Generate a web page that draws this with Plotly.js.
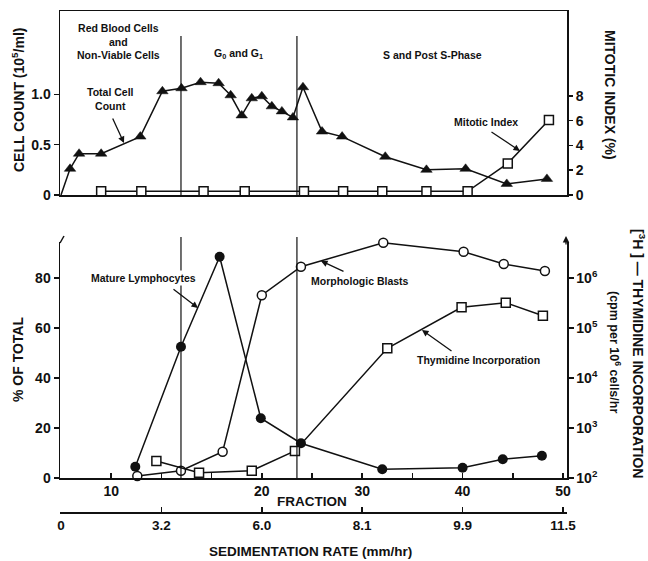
<!DOCTYPE html>
<html>
<head>
<meta charset="utf-8">
<script src="https://cdn.plot.ly/plotly-3.0.1.min.js"></script>
<style>html,body{margin:0;padding:0;background:#fff;}#chart{width:648px;height:561px;}</style>
</head>
<body>
<div id="chart"></div>
<script>
// ---- Data (x = position along the fraction axis) ----
const cellX     = [0, 0.9, 1.8, 4.0, 7.9, 10.1, 12.0, 13.9, 15.7, 16.9, 18.0, 19.0, 20.0, 21.0, 22.0, 23.1, 24.1, 26.0, 28.0, 32.3, 36.4, 40.3, 44.4, 48.4];
const cellCount = [0, 0.26, 0.41, 0.41, 0.58, 1.03, 1.06, 1.12, 1.11, 0.99, 0.79, 0.96, 0.98, 0.88, 0.83, 0.77, 1.07, 0.63, 0.58, 0.38, 0.25, 0.26, 0.11, 0.16];
const mitoX     = [4.0, 8.0, 14.2, 18.3, 24.2, 28.1, 32.0, 36.4, 40.5, 44.5, 48.6];
const mitoIndex = [0.3, 0.3, 0.3, 0.3, 0.3, 0.3, 0.3, 0.3, 0.3, 2.55, 6.05];
const lymphX    = [7.4, 11.95, 15.8, 19.9, 23.9, 32.0, 40.0, 44.0, 47.9];
const lymphPct  = [4.5, 52.5, 88.5, 23.9, 13.9, 3.5, 4.1, 7.5, 8.9];
const blastX    = [7.6, 11.95, 16.1, 20.0, 23.9, 32.1, 40.1, 44.1, 48.2];
const blastPct  = [0.8, 2.9, 10.5, 73.1, 84.5, 94.1, 90.5, 85.6, 82.8];
const thyX      = [9.5, 13.75, 19.0, 23.3, 32.5, 39.9, 44.3, 48.0];
const thyCpm    = [219, 128, 140, 347, 39300, 259000, 321000, 176000];
const phaseBounds = [11.95, 23.5];
const fracTickVals = [5, 20, 30, 40, 50];
const fracTickText = ["10", "20", "30", "40", "50"];
const fracMinorVals = [10, 15, 25, 35, 45];
const sedTickVals = [0, 10, 20, 30, 40, 50];
const sedTickText = ["0", "3.2", "6.0", "8.1", "9.9", "11.5"];
const cellTickVals = [0, 0.5, 1.0];
const cellTickText = ["0", "0.5", "1.0"];
const mitoTickVals = [0, 2, 4, 6, 8];
const pctTickVals = [0, 20, 40, 60, 80];
const cpmTickVals = [1e2, 1e3, 1e4, 1e5, 1e6];
const cpmTickText = ["10<sup>2</sup>", "10<sup>3</sup>", "10<sup>4</sup>", "10<sup>5</sup>", "10<sup>6</sup>"];

// ---- helpers: pixel -> paper ----
const L = 60, R = 567, T = 11, B = 512;
const px = x => (x - L) / (R - L);
const py = y => (B - y) / (B - T);

const FONT = 'Liberation Sans, Arial, sans-serif';
const K = '#111';
const tickFont = {family: FONT, size: 14, color: K, weight: 'bold'};
const XR = [-0.1, 50.4];

const lineStyle = {color: K, width: 1.5};
const traces = [
  {x: cellX, y: cellCount, xaxis: 'x', yaxis: 'y', mode: 'lines+markers', line: lineStyle,
   marker: {symbol: 'triangle-up', size: cellX.map((v, i) => i === 0 ? 0 : 10), color: K, opacity: 1, line: {color: K, width: 0.5}}, cliponaxis: false, hoverinfo: 'skip'},
  {x: mitoX, y: mitoIndex, xaxis: 'x', yaxis: 'y2', mode: 'lines+markers', line: lineStyle,
   marker: {symbol: 'square', size: 9, color: '#fff', opacity: 1, line: {color: K, width: 1.5}}, cliponaxis: false, hoverinfo: 'skip'},
  {x: lymphX, y: lymphPct, xaxis: 'x2', yaxis: 'y3', mode: 'lines+markers', line: lineStyle,
   marker: {symbol: 'circle', size: 10, color: K, opacity: 1}, cliponaxis: false, hoverinfo: 'skip'},
  {x: blastX, y: blastPct, xaxis: 'x2', yaxis: 'y3', mode: 'lines+markers', line: lineStyle,
   marker: {symbol: 'circle', size: 9, color: '#fff', opacity: 1, line: {color: K, width: 1.5}}, cliponaxis: false, hoverinfo: 'skip'},
  {x: thyX, y: thyCpm, xaxis: 'x2', yaxis: 'y4', mode: 'lines+markers', line: lineStyle,
   marker: {symbol: 'square', size: 9, color: '#fff', opacity: 1, line: {color: K, width: 1.5}}, cliponaxis: false, hoverinfo: 'skip'},
  {x: [0], y: [0], xaxis: 'x3', yaxis: 'y3', mode: 'markers', marker: {opacity: 0}, hoverinfo: 'skip'}
];

const axBase = {showgrid: false, zeroline: false, linecolor: K, linewidth: 1.5, tickcolor: K, tickwidth: 1.5, ticklen: 5, tickfont: tickFont, fixedrange: true};

const shapes = [];
phaseBounds.forEach(b => {
  shapes.push({type: 'line', xref: 'x', yref: 'paper', x0: b, x1: b, y0: py(195), y1: py(36), line: {color: K, width: 1.2}});
  shapes.push({type: 'line', xref: 'x2', yref: 'paper', x0: b, x1: b, y0: py(478), y1: py(237), line: {color: K, width: 1.2}});
});
// small curl at top of left bottom axis
shapes.push({type: 'line', xref: 'paper', yref: 'paper', x0: px(60), x1: px(64), y0: py(243), y1: py(236), line: {color: K, width: 1.5}});

const textFont = {family: FONT, size: 10.5, color: K, weight: 'bold'};
const titleFont = {family: FONT, size: 14, color: K, weight: 'bold'};
function lab(text, x, y, extra) {
  return Object.assign({text: text, xref: 'paper', yref: 'paper', x: px(x), y: py(y), showarrow: false,
    xanchor: 'center', yanchor: 'middle', font: textFont}, extra || {});
}
function arrow(tipX, tipY, tailX, tailY) {
  return {text: '', xref: 'paper', yref: 'paper', x: px(tipX), y: py(tipY), ax: tailX - tipX, ay: tailY - tipY,
    showarrow: true, arrowhead: 2, arrowsize: 1, arrowwidth: 1.3, arrowcolor: K};
}

const annotations = [
  lab('Red Blood Cells<br>and<br>Non-Viable Cells', 118, 42),
  lab('G<sub>0</sub> and G<sub>1</sub>', 238, 54),
  lab('S and Post S-Phase', 432, 55),
  lab('Total Cell<br>Count', 110, 99),
  lab('Mitotic Index', 486, 122),
  lab('Mature Lymphocytes', 143, 278, {bgcolor: '#fff'}),
  lab('Morphologic Blasts', 360, 281, {bgcolor: '#fff'}),
  lab('Thymidine Incorporation', 478, 360),
  arrow(124, 143, 112, 117),
  arrow(520, 151, 490, 131),
  arrow(198, 308, 172, 288),
  arrow(321, 261, 345, 272),
  arrow(422, 330, 453, 352),
  arrow(566, 236, 566, 246),
  lab('CELL COUNT (10<sup>5</sup>/ml)', 18, 100, {textangle: -90, font: titleFont}),
  lab('MITOTIC INDEX (%)', 610, 95, {textangle: 90, font: titleFont}),
  lab('% OF TOTAL', 18, 360, {textangle: -90, font: titleFont}),
  lab('[<sup>3</sup>H ] \u2014 THYMIDINE INCORPORATION', 639, 353, {textangle: 90, font: titleFont}),
  lab('(cpm per 10<sup>6</sup> cells/hr', 615, 352, {textangle: 90, font: {family: FONT, size: 12.5, color: K, weight: 'bold'}}),
  lab('FRACTION', 312, 501, {font: {family: FONT, size: 13.5, color: K, weight: 'bold'}}),
  lab('SEDIMENTATION RATE (mm/hr)', 310, 551, {font: {family: FONT, size: 13.5, color: K, weight: 'bold'}})
];

const layout = {
  width: 648, height: 561,
  margin: {l: L, r: 648 - R, t: T, b: 561 - B, pad: 0},
  paper_bgcolor: '#fff', plot_bgcolor: '#fff',
  showlegend: false,
  font: {family: FONT, color: K},
  xaxis: Object.assign({}, axBase, {domain: [0, 1], anchor: 'y', range: XR, showline: true, mirror: true, ticks: '', showticklabels: false}),
  yaxis: Object.assign({}, axBase, {domain: [py(195), py(11)], anchor: 'x', range: [0, 1.827], tickvals: cellTickVals, ticktext: cellTickText, ticks: 'outside', showline: true, mirror: true}),
  yaxis2: Object.assign({}, axBase, {overlaying: 'y', side: 'right', anchor: 'x', range: [0, 14.84], tickvals: mitoTickVals, ticks: 'outside', showline: false}),
  xaxis2: Object.assign({}, axBase, {domain: [0, 1], anchor: 'y3', range: XR, tickvals: fracTickVals, ticktext: fracTickText, ticks: 'inside', showline: true,
    minor: {tickvals: fracMinorVals, ticks: 'inside', ticklen: 5, tickwidth: 1.5, tickcolor: K, showgrid: false}}),
  yaxis3: Object.assign({}, axBase, {domain: [py(478), py(242)], anchor: 'x2', range: [0, 94.4], tickvals: pctTickVals, ticks: 'outside', showline: true}),
  yaxis4: Object.assign({}, axBase, {overlaying: 'y3', side: 'right', anchor: 'x2', type: 'log', range: [2, 6.72], tickvals: cpmTickVals, ticktext: cpmTickText, ticks: 'outside', showline: true}),
  xaxis3: Object.assign({}, axBase, {overlaying: 'x2', anchor: 'free', position: 0, side: 'bottom', range: XR, tickvals: sedTickVals, ticktext: sedTickText, ticks: 'inside', showline: true, tickfont: {family: FONT, size: 13.5, color: K, weight: 'bold'}}),
  shapes: shapes,
  annotations: annotations
};

Plotly.newPlot('chart', traces, layout, {displayModeBar: false, staticPlot: true});
</script>
</body>
</html>
